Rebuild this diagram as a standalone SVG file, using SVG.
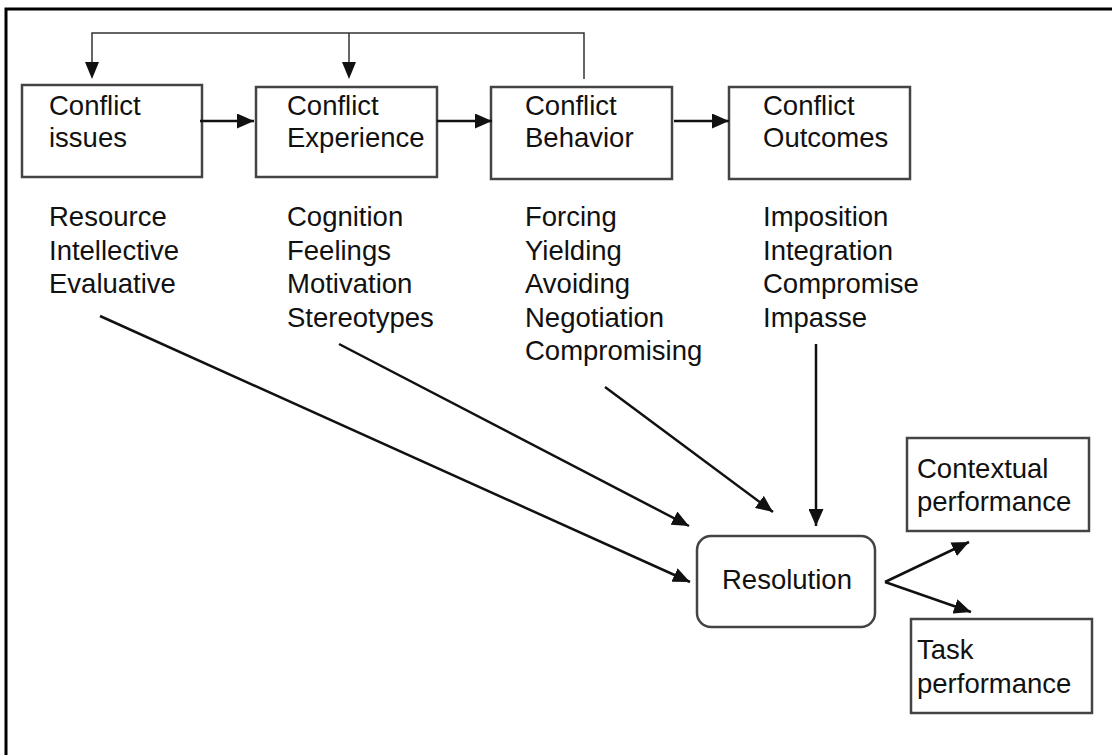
<svg xmlns="http://www.w3.org/2000/svg" width="1112" height="755" viewBox="0 0 1112 755">
<defs>
<style>
.box{fill:#fff;stroke:#444;stroke-width:2.5}
.t{font-family:"Liberation Sans",Arial,sans-serif;font-size:27.5px;fill:#111}
.c{fill:none;stroke:#111;stroke-width:2.5}
.fb{fill:none;stroke:#333;stroke-width:1.5}
</style>
<marker id="ah" markerUnits="userSpaceOnUse" markerWidth="18" markerHeight="15" refX="17" refY="7.5" orient="auto">
<path d="M0,0 L17,7.5 L0,15 z" fill="#111"/>
</marker>
</defs>
<rect width="1112" height="755" fill="#fff"/>
<path d="M6,755 V9 H1112" fill="none" stroke="#000" stroke-width="3"/>

<g id="issues">
<rect class="box" x="22" y="85" width="180" height="92"/>
<text class="t" x="49" y="115">Conflict</text>
<text class="t" x="49" y="147">issues</text>
</g>
<g id="experience">
<rect class="box" x="256" y="87" width="181" height="90"/>
<text class="t" x="287" y="115">Conflict</text>
<text class="t" x="287" y="147">Experience</text>
</g>
<g id="behavior">
<rect class="box" x="491" y="87" width="181" height="92"/>
<text class="t" x="525" y="115">Conflict</text>
<text class="t" x="525" y="147">Behavior</text>
</g>
<g id="outcomes">
<rect class="box" x="729" y="87" width="181" height="92"/>
<text class="t" x="763" y="115">Conflict</text>
<text class="t" x="763" y="147">Outcomes</text>
</g>

<g id="issues-list">
<text class="t" x="49" y="226">Resource</text>
<text class="t" x="49" y="260">Intellective</text>
<text class="t" x="49" y="293">Evaluative</text>
</g>
<g id="experience-list">
<text class="t" x="287" y="226">Cognition</text>
<text class="t" x="287" y="260">Feelings</text>
<text class="t" x="287" y="293">Motivation</text>
<text class="t" x="287" y="327">Stereotypes</text>
</g>
<g id="behavior-list">
<text class="t" x="525" y="226">Forcing</text>
<text class="t" x="525" y="260">Yielding</text>
<text class="t" x="525" y="293">Avoiding</text>
<text class="t" x="525" y="327">Negotiation</text>
<text class="t" x="525" y="360">Compromising</text>
</g>
<g id="outcomes-list">
<text class="t" x="763" y="226">Imposition</text>
<text class="t" x="763" y="260">Integration</text>
<text class="t" x="763" y="293">Compromise</text>
<text class="t" x="763" y="327">Impasse</text>
</g>

<g id="resolution">
<rect class="box" x="697" y="536" width="178" height="91" rx="14"/>
<text class="t" x="722" y="589">Resolution</text>
</g>
<g id="contextual">
<rect class="box" x="907" y="438" width="182" height="93"/>
<text class="t" x="917" y="478">Contextual</text>
<text class="t" x="917" y="511">performance</text>
</g>
<g id="task">
<rect class="box" x="911" y="619" width="181" height="94"/>
<text class="t" x="917" y="659">Task</text>
<text class="t" x="917" y="693">performance</text>
</g>

<g id="connectors">
<path class="fb" d="M584,79 V33 H92 V62"/>
<path class="fb" d="M349,33 V62"/>
<path d="M85,62 L99,62 L92,79 z" fill="#111"/>
<path d="M342,62 L356,62 L349,79 z" fill="#111"/>
<line class="c" x1="200" y1="121" x2="254" y2="121" marker-end="url(#ah)"/>
<line class="c" x1="437" y1="121" x2="492" y2="121" marker-end="url(#ah)"/>
<line class="c" x1="674" y1="121" x2="729" y2="121" marker-end="url(#ah)"/>
<line class="c" x1="100" y1="316" x2="690" y2="582" marker-end="url(#ah)"/>
<line class="c" x1="339" y1="344" x2="689" y2="526" marker-end="url(#ah)"/>
<line class="c" x1="605" y1="387" x2="773" y2="512" marker-end="url(#ah)"/>
<line class="c" x1="816" y1="344" x2="816" y2="526" marker-end="url(#ah)"/>
<line class="c" x1="885" y1="582" x2="969" y2="542" marker-end="url(#ah)"/>
<line class="c" x1="885" y1="582" x2="971" y2="612" marker-end="url(#ah)"/>
</g>
</svg>
